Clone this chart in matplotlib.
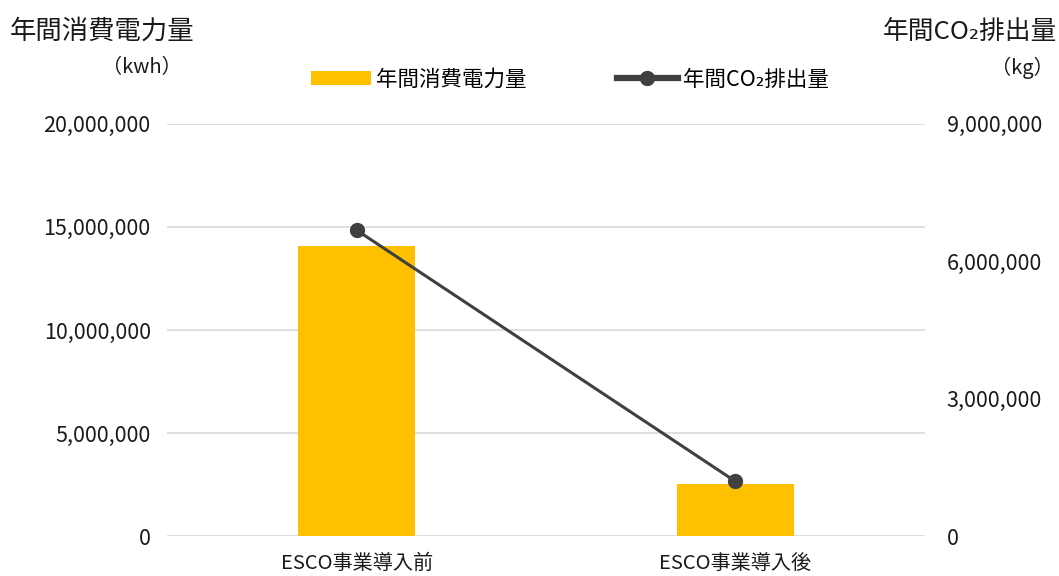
import matplotlib.pyplot as plt
from matplotlib.ticker import FuncFormatter

plt.rcParams['font.family'] = ['Noto Sans CJK JP', 'DejaVu Sans']

# Data
categories = ["ESCO事業導入前", "ESCO事業導入後"]
power_kwh = [14100000, 2520000]
co2_kg = [6680000, 1200000]

bar_color = "#FFC000"
line_color = "#404040"
text_color = "#1a1a1a"

fig, ax = plt.subplots(figsize=(10.59, 5.76), dpi=100)
fig.subplots_adjust(left=0.158, right=0.873, top=0.785, bottom=0.069)

x = range(len(categories))
ax.bar(x, power_kwh, width=0.31, color=bar_color, zorder=2, label="年間消費電力量")
ax.set_ylim(0, 20000000)
ax.set_yticks([0, 5000000, 10000000, 15000000, 20000000])
ax.set_xlim(-0.5, 1.5)
ax.set_xticks(list(x))
ax.set_xticklabels(categories, fontsize=14.5, color=text_color)
ax.grid(axis="y", color="#d9d9d9", linewidth=1.2, zorder=0)
ax.set_axisbelow(True)

ax2 = ax.twinx()
ax2.plot(x, co2_kg, color=line_color, linewidth=2.2, marker="o", markersize=10,
         zorder=3, label="年間CO₂排出量")
ax2.set_ylim(0, 9000000)
ax2.set_yticks([0, 3000000, 6000000, 9000000])

fmt = FuncFormatter(lambda v, p: f"{int(v):,}")
for a in (ax, ax2):
    a.yaxis.set_major_formatter(fmt)
    for s in a.spines.values():
        s.set_visible(False)
    a.tick_params(axis="y", length=0, labelsize=15.5, colors=text_color)
ax.tick_params(axis="x", length=0, pad=12, colors=text_color)
ax.tick_params(axis="y", pad=12)
ax2.tick_params(axis="y", pad=16)

# Axis titles
fig.text(0.009, 0.945, "年間消費電力量", fontsize=19, ha="left", va="center", color=text_color)
fig.text(0.172, 0.882, "（kwh）", fontsize=14.5, ha="right", va="center", color=text_color)
fig.text(0.998, 0.945, "年間CO₂排出量", fontsize=18.5, ha="right", va="center", color=text_color)
fig.text(0.995, 0.882, "（kg）", fontsize=14.5, ha="right", va="center", color=text_color)

# Legend
h1, l1 = ax.get_legend_handles_labels()
h2, l2 = ax2.get_legend_handles_labels()
leg = fig.legend(h1 + h2, l1 + l2, loc="center", bbox_to_anchor=(0.538, 0.862), ncol=2,
                 frameon=False, fontsize=15.5, handlelength=2.8, columnspacing=4.2,
                 handletextpad=0.25, handleheight=0.6)
leg.get_lines()[0].set_linewidth(4.5)

fig.savefig("out.png", dpi=100)
